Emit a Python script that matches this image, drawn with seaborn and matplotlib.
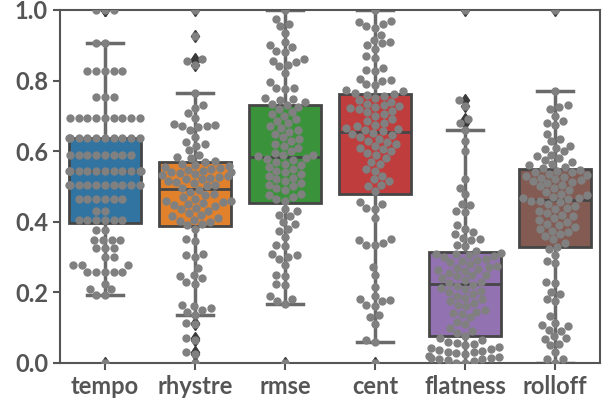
import matplotlib
matplotlib.use('Agg')
import matplotlib.pyplot as plt
import seaborn as sns
import pandas as pd

# normalised feature values (100 tracks)
features = ['tempo', 'rhystre', 'rmse', 'cent', 'flatness', 'rolloff']

tempo = [0.0, 0.193, 0.193, 0.209, 0.209, 0.224, 0.259, 0.259, 0.259, 0.259,
         0.259, 0.278, 0.278, 0.278, 0.301, 0.301, 0.325, 0.325, 0.325, 0.348,
         0.348, 0.348, 0.348, 0.377, 0.377, 0.404, 0.404, 0.404, 0.404, 0.404,
         0.404, 0.431, 0.431, 0.465, 0.465, 0.465, 0.465, 0.465, 0.465, 0.504,
         0.504, 0.504, 0.504, 0.504, 0.504, 0.504, 0.504, 0.504, 0.504, 0.544,
         0.544, 0.544, 0.544, 0.544, 0.544, 0.544, 0.544, 0.544, 0.544, 0.544,
         0.589, 0.589, 0.589, 0.589, 0.589, 0.589, 0.589, 0.589, 0.638, 0.638,
         0.638, 0.638, 0.638, 0.638, 0.638, 0.638, 0.638, 0.638, 0.695, 0.695,
         0.695, 0.695, 0.695, 0.695, 0.695, 0.695, 0.695, 0.754, 0.754, 0.754,
         0.827, 0.827, 0.827, 0.827, 0.827, 0.907, 0.907, 1.0, 1.0, 1.0]

rhystre = [0.0, 0.025, 0.03, 0.065, 0.07, 0.11, 0.112, 0.136, 0.145, 0.15,
           0.155, 0.16, 0.165, 0.225, 0.23, 0.24, 0.245, 0.25, 0.27, 0.30,
           0.306, 0.31, 0.345, 0.35, 0.38, 0.39, 0.395, 0.40, 0.402, 0.405,
           0.41, 0.415, 0.42, 0.425, 0.43, 0.435, 0.44, 0.445, 0.448, 0.45,
           0.452, 0.455, 0.458, 0.46, 0.465, 0.47, 0.475, 0.48, 0.485, 0.49,
           0.495, 0.50, 0.505, 0.51, 0.512, 0.515, 0.52, 0.522, 0.525, 0.528,
           0.53, 0.532, 0.535, 0.538, 0.54, 0.542, 0.545, 0.548, 0.55, 0.552,
           0.555, 0.558, 0.56, 0.565, 0.568, 0.572, 0.58, 0.584, 0.588, 0.603,
           0.615, 0.62, 0.625, 0.641, 0.66, 0.668, 0.67, 0.672, 0.675, 0.678,
           0.694, 0.708, 0.722, 0.73, 0.766, 0.845, 0.855, 0.86, 0.925, 1.0]

rmse = [0.0, 0.167, 0.175, 0.18, 0.19, 0.22, 0.225, 0.245, 0.25, 0.278,
        0.295, 0.30, 0.305, 0.31, 0.33, 0.335, 0.357, 0.375, 0.38, 0.395,
        0.40, 0.415, 0.42, 0.43, 0.435, 0.46, 0.465, 0.47, 0.475, 0.48,
        0.49, 0.495, 0.50, 0.505, 0.51, 0.515, 0.52, 0.525, 0.53, 0.535,
        0.54, 0.545, 0.55, 0.555, 0.56, 0.565, 0.57, 0.575, 0.578, 0.58,
        0.585, 0.588, 0.59, 0.595, 0.60, 0.61, 0.615, 0.62, 0.63, 0.635,
        0.64, 0.65, 0.655, 0.66, 0.665, 0.67, 0.68, 0.685, 0.69, 0.70,
        0.705, 0.71, 0.72, 0.725, 0.73, 0.735, 0.74, 0.745, 0.748, 0.75,
        0.775, 0.778, 0.78, 0.795, 0.822, 0.84, 0.845, 0.853, 0.855, 0.86,
        0.88, 0.885, 0.895, 0.90, 0.91, 0.935, 0.955, 0.96, 0.975, 1.0]

cent = [0.0, 0.06, 0.065, 0.11, 0.13, 0.135, 0.16, 0.165, 0.175, 0.178,
        0.18, 0.19, 0.215, 0.249, 0.272, 0.333, 0.335, 0.34, 0.348, 0.35,
        0.41, 0.435, 0.44, 0.45, 0.455, 0.488, 0.50, 0.505, 0.515, 0.52,
        0.53, 0.545, 0.55, 0.565, 0.57, 0.58, 0.59, 0.595, 0.60, 0.605,
        0.61, 0.615, 0.62, 0.625, 0.63, 0.635, 0.64, 0.645, 0.648, 0.652,
        0.656, 0.66, 0.662, 0.665, 0.67, 0.675, 0.68, 0.685, 0.69, 0.70,
        0.705, 0.71, 0.715, 0.72, 0.722, 0.725, 0.728, 0.73, 0.735, 0.74,
        0.745, 0.75, 0.755, 0.76, 0.762, 0.765, 0.77, 0.772, 0.787, 0.79,
        0.80, 0.802, 0.805, 0.826, 0.83, 0.835, 0.865, 0.87, 0.89, 0.90,
        0.905, 0.91, 0.915, 0.93, 0.95, 0.955, 0.96, 0.965, 0.97, 1.0]

flatness = [0.0, 0.0, 0.005, 0.008, 0.01, 0.012, 0.013, 0.015, 0.018, 0.02,
            0.025, 0.027, 0.03, 0.032, 0.035, 0.038, 0.04, 0.042, 0.045, 0.05,
            0.055, 0.058, 0.06, 0.065, 0.07, 0.077, 0.085, 0.09, 0.10, 0.11,
            0.115, 0.13, 0.14, 0.142, 0.145, 0.15, 0.16, 0.165, 0.17, 0.175,
            0.18, 0.185, 0.19, 0.195, 0.20, 0.205, 0.21, 0.212, 0.218, 0.22,
            0.226, 0.23, 0.235, 0.24, 0.245, 0.248, 0.25, 0.255, 0.26, 0.262,
            0.265, 0.27, 0.272, 0.275, 0.28, 0.285, 0.29, 0.292, 0.295, 0.30,
            0.302, 0.305, 0.308, 0.31, 0.312, 0.316, 0.33, 0.335, 0.347, 0.35,
            0.355, 0.366, 0.37, 0.38, 0.39, 0.428, 0.43, 0.447, 0.45, 0.478,
            0.497, 0.52, 0.60, 0.63, 0.66, 0.68, 0.69, 0.727, 0.745, 1.0]

rolloff = [0.0, 0.01, 0.012, 0.03, 0.05, 0.055, 0.068, 0.07, 0.075, 0.09,
           0.094, 0.105, 0.108, 0.112, 0.132, 0.175, 0.18, 0.195, 0.2, 0.227,
           0.23, 0.282, 0.288, 0.306, 0.322, 0.329, 0.34, 0.35, 0.36, 0.365,
           0.37, 0.375, 0.38, 0.385, 0.39, 0.395, 0.40, 0.405, 0.41, 0.415,
           0.42, 0.425, 0.43, 0.435, 0.44, 0.445, 0.45, 0.455, 0.458, 0.46,
           0.464, 0.466, 0.468, 0.47, 0.475, 0.48, 0.485, 0.49, 0.495, 0.50,
           0.505, 0.51, 0.512, 0.515, 0.518, 0.52, 0.525, 0.528, 0.53, 0.533,
           0.536, 0.54, 0.542, 0.545, 0.548, 0.552, 0.556, 0.56, 0.565, 0.57,
           0.575, 0.58, 0.585, 0.59, 0.60, 0.605, 0.61, 0.615, 0.63, 0.635,
           0.65, 0.675, 0.68, 0.685, 0.70, 0.72, 0.725, 0.73, 0.77, 1.0]

df = pd.DataFrame({'tempo': tempo, 'rhystre': rhystre, 'rmse': rmse,
                   'cent': cent, 'flatness': flatness, 'rolloff': rolloff})
long = df.melt(var_name='feature', value_name='value')

fig, ax = plt.subplots(figsize=(6.05, 3.98), dpi=100)
fig.subplots_adjust(left=0.099, right=0.992, bottom=0.088, top=0.975)

sns.boxplot(data=long, x='feature', y='value', hue='feature', order=features,
            palette='tab10', saturation=0.75, legend=False, linewidth=2,
            linecolor='#464646',
            whiskerprops={'color': '#6a6a6a', 'linewidth': 2.5},
            capprops={'color': '#6a6a6a', 'linewidth': 2.5},
            flierprops={'marker': 'd', 'markerfacecolor': '#3a3a3a',
                        'markeredgecolor': '#3a3a3a', 'markersize': 6},
            ax=ax)
sns.swarmplot(data=long, x='feature', y='value', order=features,
              color='.5', size=6, ax=ax)

ax.set_ylim(0, 1)
ax.set_yticks([0, 0.2, 0.4, 0.6, 0.8, 1.0])
ax.set_yticklabels(['0.0', '0.2', '0.4', '0.6', '0.8', '1.0'])
ax.set_xlabel('')
ax.set_ylabel('')

for lab in ax.get_xticklabels() + ax.get_yticklabels():
    lab.set_fontweight('bold')
    lab.set_fontsize(17)
    lab.set_family('Lato')
    lab.set_color('#404040')
ax.tick_params(colors='#555555', width=1.5, length=5)
for s in ax.spines.values():
    s.set_color('#555555')
    s.set_linewidth(1.5)

plt.savefig('out.png')
